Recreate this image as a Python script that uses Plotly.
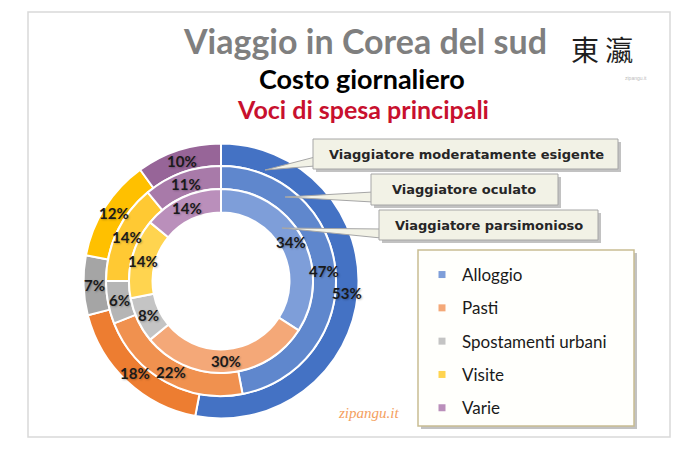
import numpy as np
import plotly.graph_objects as go

# ---------------- data ----------------
categories = ["Alloggio", "Pasti", "Spostamenti urbani", "Visite", "Varie"]
series_names = ["Viaggiatore moderatamente esigente", "Viaggiatore oculato", "Viaggiatore parsimonioso"]
val_moderato = [53, 18, 7, 12, 10]      # outer ring
val_oculato = [47, 22, 6, 14, 11]       # middle ring
val_parsimonioso = [34, 30, 8, 14, 14]  # inner ring

# ---------------- styles ----------------
col_outer = ["#4472C4", "#ED7D31", "#A5A5A5", "#FFC000", "#976598"]
col_middle = ["#5F87CD", "#F0914F", "#B5B5B5", "#FFC933", "#A87AA9"]
col_inner = ["#7E9ED9", "#F4A878", "#C4C4C4", "#FFD44F", "#BA8FBB"]

W, H = 700, 450
CX, CY = 221, 281
R_OUT, R_MID, R_IN, R_HOLE = 137.5, 115, 92, 68.5


def px(x):
    return x / W


def py(y):
    return 1 - y / H


def dom(r):
    return dict(x=[(CX - r) / W, (CX + r) / W], y=[(H - CY - r) / H, (H - CY + r) / H])


fig = go.Figure()
rings = [
    (val_moderato, col_outer, R_OUT, R_MID, series_names[0]),
    (val_oculato, col_middle, R_MID, R_IN, series_names[1]),
    (val_parsimonioso, col_inner, R_IN, R_HOLE, series_names[2]),
]
annotations = []
for vals, cols, r1, r0, name in rings:
    fig.add_trace(go.Pie(
        labels=categories, values=vals, name=name,
        marker=dict(colors=cols, line=dict(color="white", width=2)),
        hole=r0 / r1, domain=dom(r1), sort=False, direction="clockwise",
        rotation=0, textinfo="none", showlegend=False,
    ))
    tot = float(sum(vals))
    cum = np.cumsum(vals)
    rm = (r1 + r0) / 2
    for v, c in zip(vals, cum):
        a = (c - v / 2) / tot * 2 * np.pi
        x = CX + rm * np.sin(a)
        y = CY - rm * np.cos(a)
        annotations.append(dict(
            x=px(x), y=py(y), xref="paper", yref="paper", showarrow=False,
            text=f"<b>{v}%</b>",
            font=dict(family="Lato", size=15, color="#1a1a1a",
                      shadow="1px 1px 2px rgba(0,0,0,0.25)"),
            xanchor="center", yanchor="middle",
        ))

# legend entries (one per category)
for cat, c in zip(categories, col_inner):
    fig.add_trace(go.Scatter(
        x=[None], y=[None], mode="markers", name=cat, legendgroup=cat,
        marker=dict(symbol="square", size=7, color=c), showlegend=True,
    ))

# ---------------- titles ----------------
annotations += [
    dict(x=px(365), y=py(40), text="<b>Viaggio in Corea del sud</b>",
         font=dict(family="Lato", size=34, color="#7F7F7F")),
    dict(x=px(362), y=py(78), text="<b>Costo giornaliero</b>",
         font=dict(family="Lato", size=27, color="#000000")),
    dict(x=px(363), y=py(109), text="<b>Voci di spesa principali</b>",
         font=dict(family="Lato", size=25, color="#C8102E")),
    dict(x=px(602), y=py(49), text="東 瀛",
         font=dict(family="Noto Sans CJK TC", size=28, color="#1e1e1e")),
    dict(x=px(636), y=py(78), text="zipangu.it",
         font=dict(family="Liberation Sans", size=5, color="#BBBBBB")),
    dict(x=px(368), y=py(413), text="<i>zipangu.it</i>",
         font=dict(family="Liberation Serif", size=15, color="#F4A060")),
]
for a in annotations[-6:]:
    a.update(xref="paper", yref="paper", showarrow=False, xanchor="center", yanchor="middle")

# ---------------- callouts ----------------
shapes = [dict(type="rect", xref="paper", yref="paper", x0=px(28), x1=px(670), y0=py(12), y1=py(437),
               line=dict(color="#D9D9D9", width=1.5), fillcolor="rgba(0,0,0,0)", layer="below")]

callouts = [
    # (box x0,x1,y0,y1), tip, base y range, text, text center x
    ((313, 618, 139, 169), (265, 170), (157, 166), series_names[0], 466),
    ((371, 558, 174, 205), (285, 197), (192, 202), series_names[1], 464),
    ((379, 598, 210, 240), (282, 228), (229, 238), series_names[2], 489),
]
BOX_FILL = "#F2F2E6"
BOX_LINE = "#A6A6A6"
for (bx0, bx1, by0, by1), (tx, ty), (b0, b1), txt, tcx in callouts:
    shapes.append(dict(type="rect", xref="paper", yref="paper",
                       x0=px(bx0 + 3), x1=px(bx1 + 3), y0=py(by0 + 3), y1=py(by1 + 3),
                       fillcolor="rgba(120,120,120,0.45)", line=dict(width=0)))
    path = f"M {px(tx)},{py(ty)} L {px(bx0 + 2)},{py(b0)} L {px(bx0 + 2)},{py(b1)} Z"
    shapes.append(dict(type="path", xref="paper", yref="paper", path=path,
                       fillcolor=BOX_FILL, line=dict(color=BOX_LINE, width=1)))
    shapes.append(dict(type="rect", xref="paper", yref="paper",
                       x0=px(bx0), x1=px(bx1), y0=py(by0), y1=py(by1),
                       fillcolor=BOX_FILL, line=dict(color=BOX_LINE, width=1)))
    annotations.append(dict(x=px(tcx), y=py((by0 + by1) / 2), xref="paper", yref="paper",
                            showarrow=False, text=f"<b>{txt}</b>", xanchor="center", yanchor="middle",
                            font=dict(family="DejaVu Sans", size=13, color="#262626")))

# legend box
shapes.append(dict(type="rect", xref="paper", yref="paper",
                   x0=px(421), x1=px(637), y0=py(253), y1=py(429),
                   fillcolor="rgba(120,120,120,0.45)", line=dict(width=0)))
shapes.append(dict(type="rect", xref="paper", yref="paper",
                   x0=px(418), x1=px(634), y0=py(250), y1=py(426),
                   fillcolor="#FFFFFC", line=dict(color="#C9BD92", width=1.5)))

fig.update_layout(
    width=W, height=H,
    margin=dict(l=0, r=0, t=0, b=0),
    paper_bgcolor="white", plot_bgcolor="white",
    xaxis=dict(visible=False), yaxis=dict(visible=False),
    shapes=shapes, annotations=annotations,
    legend=dict(x=px(422), y=py(257), xanchor="left", yanchor="top",
                bgcolor="rgba(0,0,0,0)", borderwidth=0,
                font=dict(family="Lato", size=17, color="#1a1a1a"),
                tracegroupgap=8.2, traceorder="grouped", itemclick=False),
    showlegend=True,
)

fig.write_html("out.html")
